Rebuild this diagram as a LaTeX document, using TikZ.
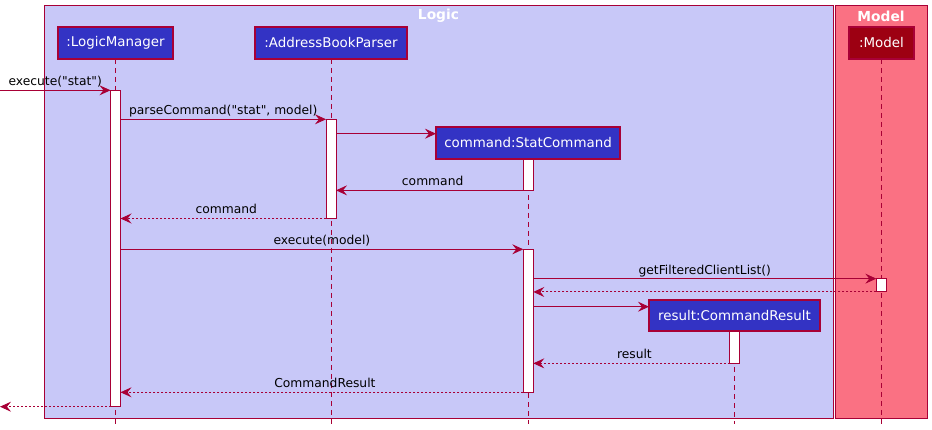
\documentclass[tikz,border=0pt]{standalone}
\usepackage{fontspec}
\setmainfont{DejaVu Sans}[Ligatures=TeXOff]
\usetikzlibrary{arrows.meta}
\definecolor{crim}{HTML}{A80036}
\definecolor{logicbg}{HTML}{C8C8F8}
\definecolor{modelbg}{HTML}{FA7183}
\definecolor{partblue}{HTML}{3333C4}
\definecolor{partred}{HTML}{9D0012}
\begin{document}
\begin{tikzpicture}[x=1pt,y=-1pt,
  frame/.style={draw=crim, line width=1pt, inner sep=0pt, outer sep=0pt},
  ftitle/.style={text=white, font=\fontsize{13.8}{16}\selectfont\bfseries, inner sep=0pt},
  part/.style={draw=crim, line width=1.2pt, fill=partblue, text=white, minimum height=32pt,
    inner sep=0pt, outer sep=0pt, font=\fontsize{13.4}{16}\selectfont},
  bar/.style={draw=crim, line width=1pt, fill=white, minimum width=10pt, inner sep=0pt, outer sep=0pt},
  life/.style={draw=crim, line width=0.9pt, dash pattern=on 5pt off 4pt},
  msg/.style={draw=crim, line width=0.9pt, -{Stealth[length=11pt,width=10pt,inset=4pt]}},
  ret/.style={msg, dash pattern=on 2pt off 2pt},
  lbl/.style={text=black, font=\fontsize{12.3}{14}\selectfont, inner sep=0pt, anchor=base, yshift=4.5pt},
]
\useasboundingbox (0,0) rectangle (932,430);
% frames
\node[frame, fill=logicbg, minimum width=789pt, minimum height=412pt] (logic) at (438.5,212) {};
\node[frame, fill=modelbg, minimum width=92.5pt, minimum height=412pt] (model) at (881.25,212) {};
\node[ftitle] (logict) at (438.5,16) {Logic};
\node[ftitle] (modelt) at (881,16) {Model};
% participants
\node[part, minimum width=115pt] (lm) at (115.5,43) {:LogicManager};
\node[part, minimum width=152pt] (abp) at (331,43) {:AddressBookParser};
\node[part, fill=partred, minimum width=65pt] (md) at (881.5,43) {:Model};
\node[part, minimum width=184pt] (sc) at (528,143) {command:StatCommand};
\node[part, minimum width=171pt, minimum height=31pt] (cr) at (734.5,315.5) {result:CommandResult};
% lifelines
\coordinate (bottom) at (0,424);
\draw[life] (lm.south) -- (lm.south |- bottom);
\draw[life] (abp.south) -- (abp.south |- bottom);
\draw[life] (md.south) -- (md.south |- bottom);
\draw[life] (sc.south) -- (sc.south |- bottom);
\draw[life] (cr.south) -- (cr.south |- bottom);
% activation bars
\node[bar, minimum height=316.4pt] (lmb) at (115.5,248.5) {};
\node[bar, minimum height=99.2pt] (abpb) at (331,168.9) {};
\node[bar, minimum height=31.3pt] (scb1) at (528.3,174.7) {};
\node[bar, minimum height=143pt] (scb2) at (528.3,320.8) {};
\node[bar, minimum height=13.3pt] (mb) at (881.3,285.3) {};
\node[bar, minimum height=32.3pt] (crb) at (734.5,347.2) {};
% messages
\coordinate (in1) at (0,90.3);
\coordinate (m3) at (0,133.7);
\coordinate (m9) at (0,306.7);
\coordinate (out12) at (0,406.7);
\draw[msg] (in1) -- node[lbl, midway] {execute("stat")} (lmb.north west);
\draw[msg] (lmb.east |- abpb.north) -- node[lbl, midway] {parseCommand("stat", model)} (abpb.north west);
\draw[msg] (abpb.east |- m3) -- (sc.west |- m3);
\draw[msg] (scb1.south west) -- node[lbl, midway, xshift=3pt] {command} (abpb.east |- scb1.south);
\draw[ret] (abpb.south west) -- node[lbl, midway, xshift=3pt] {command} (lmb.east |- abpb.south);
\draw[msg] (lmb.east |- scb2.north) -- node[lbl, midway] {execute(model)} (scb2.north west);
\draw[msg] (scb2.east |- mb.north) -- node[lbl, midway] {getFilteredClientList()} (mb.north west);
\draw[ret] (mb.south west) -- (scb2.east |- mb.south);
\draw[msg] (scb2.east |- m9) -- (cr.west |- m9);
\draw[ret] (crb.south west) -- node[lbl, midway, xshift=3pt] {result} (scb2.east |- crb.south);
\draw[ret] (scb2.south west) -- node[lbl, midway, xshift=3pt] {CommandResult} (lmb.east |- scb2.south);
\draw[ret] (lmb.south west) -- (out12);
\end{tikzpicture}
\end{document}
